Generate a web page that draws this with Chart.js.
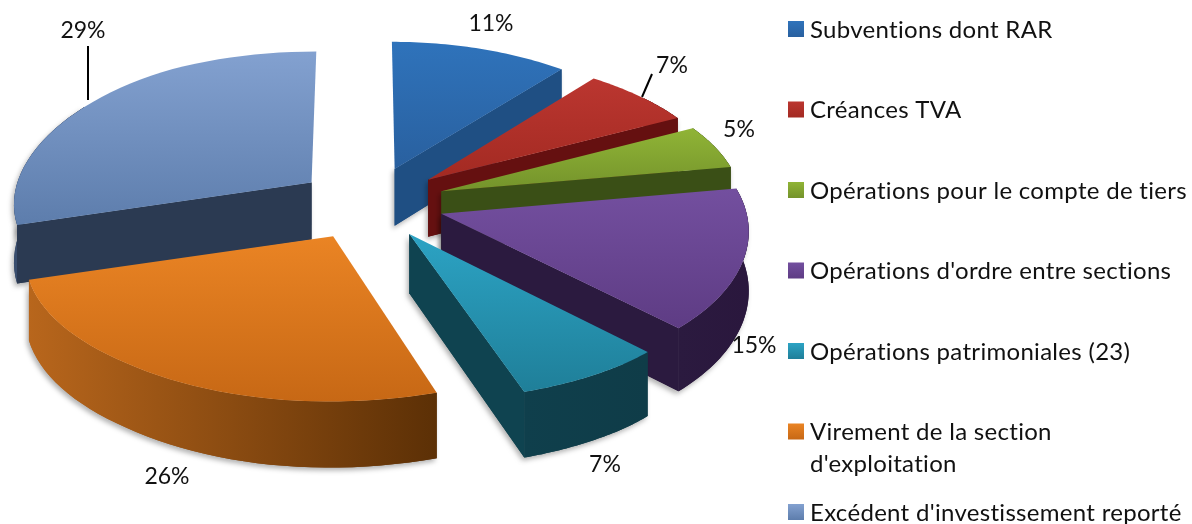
<!DOCTYPE html>
<html>
<head>
<meta charset="utf-8">
<style>
  html, body { margin: 0; padding: 0; background: #fff; }
  canvas { display: block; }
</style>
<script src="https://cdn.jsdelivr.net/npm/chart.js@4"></script>
</head>
<body>
<canvas id="chart" width="1192" height="524"></canvas>
<script>
const categories = [
  'Subventions dont RAR',
  'Créances TVA',
  'Opérations pour le compte de tiers',
  "Opérations d'ordre entre sections",
  'Opérations patrimoniales (23)',
  ['Virement de la section', "d'exploitation"],
  "Excédent d'investissement reporté"
];
const values = [11, 7, 5, 15, 7, 26, 29];

const topLight = ['#2f73bb', '#bb3630', '#90b436', '#734f9f', '#2ca3c4', '#ea8424', '#83a1d0'];
const topDark = ['#29609f', '#a32a22', '#74932b', '#5e3c84', '#1f7f99', '#c76815', '#5d7dac'];
const wallRadial = ['#1f4f83', '#651010', '#3a4f16', '#2b1a3f', '#0f4350', '#8a4a12', '#2b3a52'];
const wallLeft = ['#1f4f83', '#651010', '#3a4f16', '#2b1a3f', '#0f3f4c', '#b8661c', '#3a4f70'];
const wallRight = ['#1f4f83', '#651010', '#3a4f16', '#2a173d', '#0f3c48', '#5c3006', '#2b3a52'];

// percent labels and their leader lines
const labelSpots = [[491, 24], [672, 66], [739, 130], [754, 346], [605, 465], [167, 477], [83, 31]];
const leaders = { 1: [642, 97, 652, 74], 6: [88, 100, 88, 46] };

// look of the tilted pie
const view = { cx: 370, cy: 203, rx: 300, ry: 145, kxLeft: 0.09, kxRight: 0.13, ky: 0.09, kz: 0.1, tilt: 7, depth: 58, explode: 0.25 };

function project(u, v, z) {
  const kx = u < 0 ? view.kxLeft : view.kxRight;
  return {
    x: view.cx + view.rx * u / (1 - kx * v),
    y: view.cy + view.ry * v / (1 - view.ky * v) - view.tilt * u * Math.max(0, 1 - v * v)
       + view.depth * z / (1 - view.kz * v)
  };
}

function poly(ctx, pts, fill) {
  ctx.beginPath();
  pts.forEach((p, i) => i ? ctx.lineTo(p.x, p.y) : ctx.moveTo(p.x, p.y));
  ctx.closePath();
  ctx.fillStyle = fill;
  ctx.fill();
}

function drawSlice(ctx, arc, i) {
  const mid = (arc.startAngle + arc.endAngle) / 2;
  const ox = Math.cos(mid) * view.explode;
  const oy = Math.sin(mid) * view.explode;
  const rim = [];
  const steps = 40;
  for (let s = 0; s <= steps; s++) {
    const a = arc.startAngle + (arc.endAngle - arc.startAngle) * s / steps;
    rim.push([ox + Math.cos(a), oy + Math.sin(a)]);
  }
  const at = (p, z) => project(p[0], p[1], z);
  const apex = [ox, oy];

  // walls, far ones first. nearly edge-on radial walls are left out
  const first = rim[0];
  const last = rim[steps];
  const walls = [];
  if (at(first, 0).x < at(apex, 0).x - 8) {
    walls.push({ v: (oy + first[1]) / 2, pts: [at(apex, 0), at(first, 0), at(first, 1), at(apex, 1)], fill: wallRadial[i] });
  }
  if (at(apex, 0).x < at(last, 0).x - 8) {
    walls.push({ v: (oy + last[1]) / 2, pts: [at(apex, 0), at(last, 0), at(last, 1), at(apex, 1)], fill: wallRadial[i] });
  }
  const front = rim.filter(p => p[1] - oy > -0.6);
  if (front.length > 1) {
    const outer = front.map(p => at(p, 0)).concat(front.slice().reverse().map(p => at(p, 1)));
    const xs = outer.map(p => p.x);
    const g = ctx.createLinearGradient(Math.min(...xs), 0, Math.max(...xs), 0);
    g.addColorStop(0, wallLeft[i]);
    g.addColorStop(1, wallRight[i]);
    walls.push({ v: oy + Math.sin(mid), pts: outer, fill: g });
  }
  walls.sort((a, b) => a.v - b.v);

  ctx.save();
  ctx.shadowColor = 'rgba(0,0,0,0.3)';
  ctx.shadowBlur = 5;
  ctx.shadowOffsetX = -2;
  ctx.shadowOffsetY = 3;
  walls.forEach(w => poly(ctx, w.pts, w.fill));
  ctx.restore();
  walls.forEach(w => poly(ctx, w.pts, w.fill));

  // top face
  const face = [at(apex, 0)].concat(rim.map(p => at(p, 0)));
  const ys = face.map(p => p.y);
  const tg = ctx.createLinearGradient(0, Math.min(...ys), 0, Math.max(...ys));
  tg.addColorStop(0, topLight[i]);
  tg.addColorStop(1, topDark[i]);
  poly(ctx, face, tg);
}

const pie3d = {
  id: 'pie3d',
  beforeDatasetDraw(chart, args) {
    const ctx = chart.ctx;
    const arcs = chart.getDatasetMeta(args.index).data;
    const order = arcs.map((a, i) => i).sort((a, b) =>
      Math.sin((arcs[a].startAngle + arcs[a].endAngle) / 2) -
      Math.sin((arcs[b].startAngle + arcs[b].endAngle) / 2));
    order.forEach(i => drawSlice(ctx, arcs[i], i));
    return false;
  }
};

const textBits = {
  id: 'textBits',
  afterDraw(chart) {
    const ctx = chart.ctx;
    ctx.save();
    ctx.font = '23px Lato';
    ctx.fillStyle = '#111';
    ctx.textBaseline = 'middle';

    // percent labels
    ctx.textAlign = 'center';
    values.forEach((v, i) => ctx.fillText(v + '%', labelSpots[i][0], labelSpots[i][1]));
    ctx.strokeStyle = '#000';
    ctx.lineWidth = 2;
    Object.values(leaders).forEach(l => {
      ctx.beginPath();
      ctx.moveTo(l[0], l[1]);
      ctx.lineTo(l[2], l[3]);
      ctx.stroke();
    });

    // legend
    ctx.font = '24px Lato';
    ctx.letterSpacing = '0.3px';
    ctx.textAlign = 'left';
    categories.forEach((c, i) => {
      const y = 29 + 80.5 * i;
      const g = ctx.createLinearGradient(0, y - 8, 0, y + 8);
      g.addColorStop(0, topLight[i]);
      g.addColorStop(1, topDark[i]);
      ctx.fillStyle = g;
      ctx.fillRect(788, y - 8, 16, 16);
      ctx.fillStyle = '#111';
      [].concat(c).forEach((line, n) => ctx.fillText(line, 810, y + 1 + n * 32));
    });
    ctx.restore();
  }
};

new Chart(document.getElementById('chart'), {
  type: 'pie',
  data: {
    labels: categories,
    datasets: [{ data: values, backgroundColor: topLight, borderWidth: 0 }]
  },
  options: {
    responsive: false,
    animation: false,
    plugins: { legend: { display: false }, tooltip: { enabled: false } }
  },
  plugins: [pie3d, textBits]
});
</script>
</body>
</html>
